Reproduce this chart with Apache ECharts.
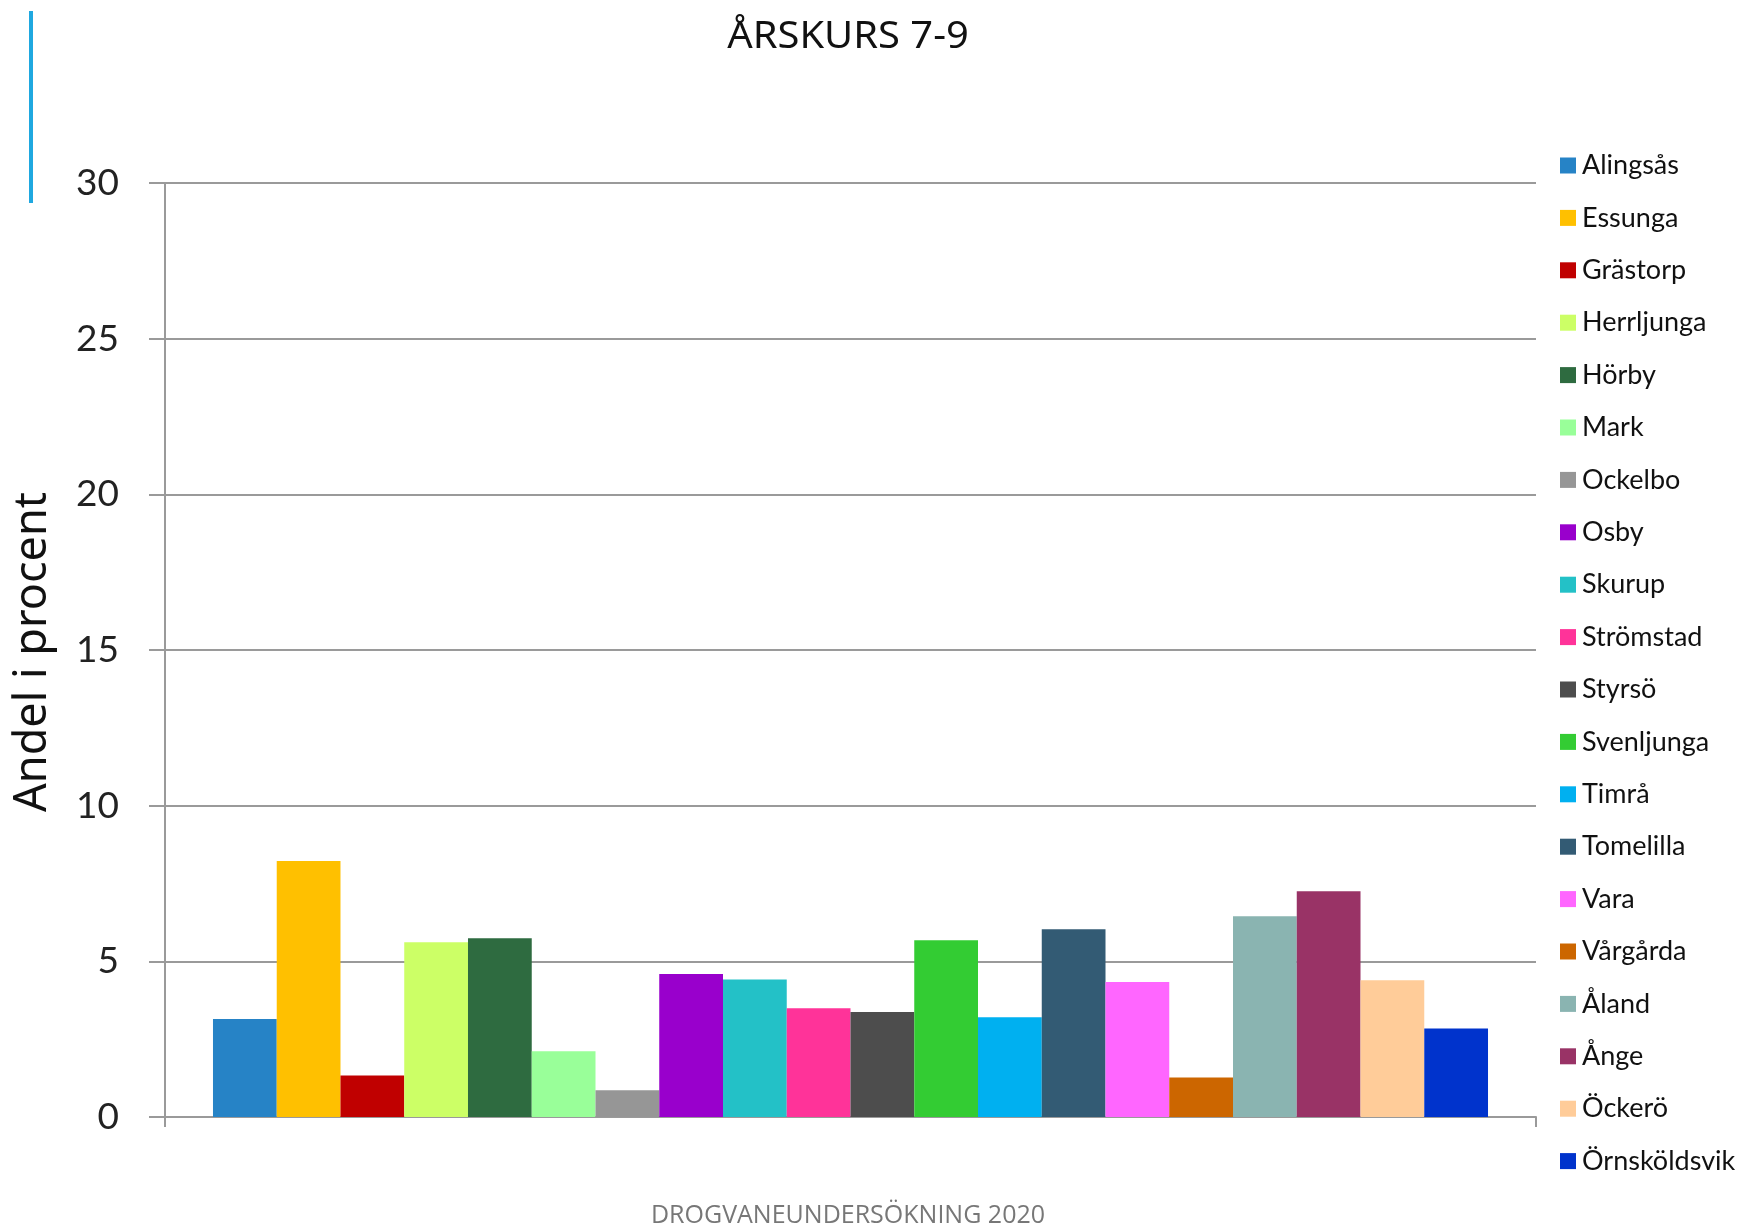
<!DOCTYPE html>
<html><head><meta charset="utf-8">
<script src="https://cdn.jsdelivr.net/npm/echarts@6/dist/echarts.min.js"></script>
<style>html,body{margin:0;padding:0;background:#fff}#c{width:1748px;height:1229px}</style>
</head><body><div id="c"></div>
<script>
const kommuner = ['Alingsås','Essunga','Grästorp','Herrljunga','Hörby','Mark','Ockelbo','Osby','Skurup','Strömstad','Styrsö','Svenljunga','Timrå','Tomelilla','Vara','Vårgårda','Åland','Ånge','Öckerö','Örnsköldsvik'];
const andel = [3.15,8.22,1.33,5.61,5.74,2.11,0.86,4.59,4.42,3.49,3.37,5.68,3.2,6.03,4.34,1.27,6.45,7.25,4.39,2.84];
const farger = ['#2683C6','#FFC000','#C00000','#CCFF66','#2E6B40','#99FF99','#969696','#9900CC','#23C1C7','#FF3399','#4D4D4D','#33CC33','#00B0F0','#335B74','#FF66FF','#CC6600','#8AB4B1','#993366','#FFCC99','#0033CC'];
const yTicks = [0,5,10,15,20,25,30];
const titel = 'ÅRSKURS 7-9';
const yNamn = 'Andel i procent';
const fot = 'DROGVANEUNDERSÖKNING 2020';

const chart = echarts.init(document.getElementById('c'));
chart.setOption({
  animation:false,
  backgroundColor:'#fff',
  color: farger,
  grid:{left:165,right:212,top:183,bottom:112,containLabel:false},
  xAxis:{type:'category',data:[''],
    axisLine:{lineStyle:{color:'#9a9a9a',width:2}},
    axisTick:{show:true,length:10,lineStyle:{color:'#9a9a9a',width:2}},
    axisLabel:{show:false}},
  yAxis:{type:'value',min:yTicks[0],max:yTicks[yTicks.length-1],interval:5,
    axisLine:{show:true,lineStyle:{color:'#9a9a9a',width:2}},
    axisTick:{show:true,length:16,lineStyle:{color:'#9a9a9a',width:2}},
    splitLine:{lineStyle:{color:'#9a9a9a',width:2}},
    axisLabel:{margin:46,fontSize:37,color:'#222',fontFamily:'Lato'}},
  legend:{orient:'vertical',left:1555,top:147,itemWidth:16,itemHeight:16,itemGap:25.4,
    icon:'rect',data:kommuner,
    textStyle:{fontSize:27,lineHeight:26,color:'#111',fontFamily:'Lato',padding:[0,0,0,1]}},
  series: kommuner.map((k,i)=>({name:k,type:'bar',data:[andel[i]],barGap:'0%',barCategoryGap:'7%',
    itemStyle:{color:farger[i]}})),
  graphic:[
    {type:'rect',left:29,top:11,shape:{width:4,height:192},style:{fill:'#1FA8E0'}},
    {type:'text',x:848,y:37,scaleX:1.05,style:{text:titel,fontSize:38,fontFamily:'Noto Sans',fill:'#111',textAlign:'center',textVerticalAlign:'middle'}},
    {type:'text',x:33,y:652,rotation:Math.PI/2,scaleX:1.0,style:{text:yNamn,fontSize:45,fontFamily:'Noto Sans',fill:'#111',textAlign:'center',textVerticalAlign:'middle'}},
    {type:'text',x:848,y:1216,style:{text:fot,fontSize:25,fontFamily:'Open Sans',fill:'#777',textAlign:'center',textVerticalAlign:'middle'}}
  ]
});
</script></body></html>
